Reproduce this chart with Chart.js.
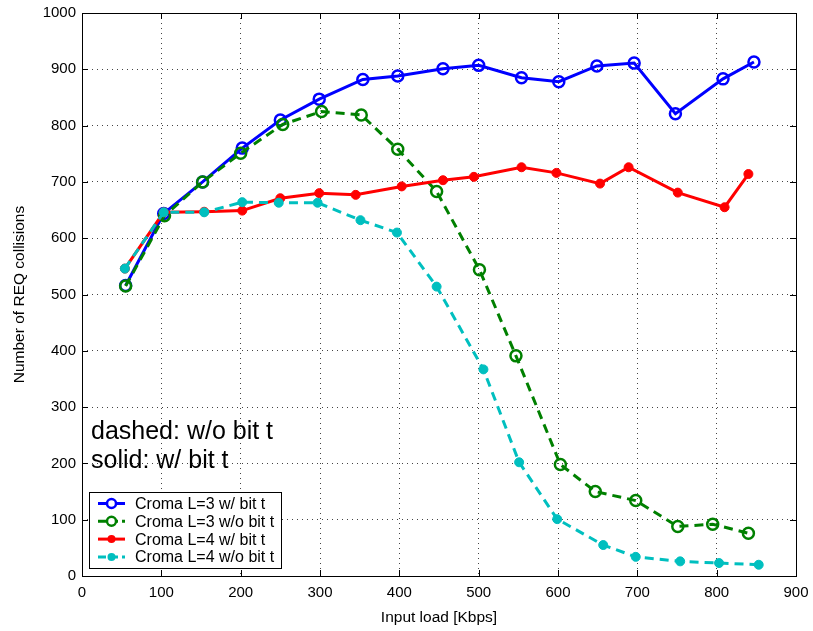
<!DOCTYPE html>
<html>
<head>
<meta charset="utf-8">
<title>REQ collisions vs input load</title>
<script src="https://cdn.jsdelivr.net/npm/chart.js@4.4.1/dist/chart.umd.min.js"></script>
<style>
  html, body { margin: 0; padding: 0; background: #ffffff; }
  canvas { display: block; }
</style>
</head>
<body>
<canvas id="chart" width="813" height="631"></canvas>
<script>
// Input load (Kbps) and REQ collision counts for each Croma configuration
const l3BitLoad   = [55, 103, 152, 202, 250, 299, 354, 398, 455, 500, 554, 601, 649, 696, 748, 808, 847];
const l3BitColl   = [516, 644, 700, 760, 810, 847, 882, 888, 901, 907, 885, 878, 906, 911, 821, 883, 913];

const l3NoBitLoad = [55, 104, 152, 200, 253, 302, 352, 398, 447, 501, 547, 603, 647, 698, 751, 795, 840];
const l3NoBitColl = [515, 640, 700, 751, 802, 825, 819, 758, 683, 544, 391, 198, 150, 134, 88, 92, 76];

const l4BitLoad   = [54, 103, 154, 202, 250, 299, 345, 403, 455, 494, 554, 598, 653, 689, 751, 810, 840];
const l4BitColl   = [546, 646, 647, 649, 671, 680, 677, 692, 703, 709, 726, 716, 697, 726, 681, 655, 714];

const l4NoBitLoad = [54, 103, 154, 202, 248, 297, 351, 397, 447, 506, 551, 599, 657, 698, 754, 803, 853];
const l4NoBitColl = [546, 646, 646, 664, 663, 663, 632, 610, 514, 367, 202, 101, 55, 34, 26, 23, 20];

const seriesNames = ['Croma L=3 w/ bit t', 'Croma L=3 w/o bit t', 'Croma L=4 w/ bit t', 'Croma L=4 w/o bit t'];
const xTicks = [0, 100, 200, 300, 400, 500, 600, 700, 800, 900];
const yTicks = [0, 100, 200, 300, 400, 500, 600, 700, 800, 900, 1000];

const FONT = '"Liberation Sans", Arial, Helvetica, sans-serif';

function pairs(xs, ys) { return xs.map((x, i) => ({ x: x, y: ys[i] })); }

const styles = [
  { color: '#0000ff', dash: [],     filled: false },
  { color: '#008000', dash: [9, 6], filled: false },
  { color: '#ff0000', dash: [],     filled: true  },
  { color: '#00bfbf', dash: [9, 6], filled: true  }
];

function makeSet(idx, xs, ys, order) {
  const s = styles[idx];
  return {
    label: seriesNames[idx],
    data: pairs(xs, ys),
    borderColor: s.color,
    backgroundColor: s.filled ? s.color : 'rgba(0,0,0,0)',
    borderWidth: 3,
    borderDash: s.dash,
    pointRadius: s.filled ? 4.5 : 5.5,
    pointBorderWidth: s.filled ? 1 : 2.5,
    pointBorderColor: s.color,
    pointBackgroundColor: s.filled ? s.color : 'rgba(0,0,0,0)',
    pointStyle: 'circle',
    showLine: true,
    tension: 0,
    order: order
  };
}

// Frame, inward tick marks, axis titles, annotation text and legend
const decorations = {
  id: 'decorations',
  afterDatasetsDraw(chart) {
    const ctx = chart.ctx;
    const a = chart.chartArea;
    const xs = chart.scales.x, ys = chart.scales.y;
    ctx.save();
    ctx.strokeStyle = '#000';
    ctx.lineWidth = 1;
    ctx.setLineDash([]);
    ctx.strokeRect(Math.round(a.left) + 0.5, Math.round(a.top) + 0.5,
                   Math.round(a.right - a.left), Math.round(a.bottom - a.top));
    const tl = 6;
    ctx.beginPath();
    xTicks.forEach(v => {
      const px = Math.round(xs.getPixelForValue(v)) + 0.5;
      ctx.moveTo(px, a.bottom); ctx.lineTo(px, a.bottom - tl);
      ctx.moveTo(px, a.top); ctx.lineTo(px, a.top + tl);
    });
    yTicks.forEach(v => {
      const py = Math.round(ys.getPixelForValue(v)) + 0.5;
      ctx.moveTo(a.left, py); ctx.lineTo(a.left + tl, py);
      ctx.moveTo(a.right, py); ctx.lineTo(a.right - tl, py);
    });
    ctx.stroke();

    // axis titles
    ctx.fillStyle = '#000';
    ctx.font = '15.5px ' + FONT;
    ctx.textAlign = 'center';
    ctx.textBaseline = 'alphabetic';
    ctx.fillText('Input load [Kbps]', (a.left + a.right) / 2, 622);
    ctx.save();
    ctx.translate(24, (a.top + a.bottom) / 2);
    ctx.rotate(-Math.PI / 2);
    ctx.fillText('Number of REQ collisions', 0, 0);
    ctx.restore();

    // annotation
    ctx.font = '25px ' + FONT;
    ctx.textAlign = 'left';
    ctx.fillText('dashed: w/o bit t', 91, 439);
    ctx.fillText('solid: w/ bit t', 91, 468);

    // legend box
    const lx = 89, ly = 492, lw = 192, lh = 76;
    ctx.fillStyle = '#fff';
    ctx.fillRect(lx, ly, lw, lh);
    ctx.strokeStyle = '#000';
    ctx.lineWidth = 1;
    ctx.strokeRect(lx + 0.5, ly + 0.5, lw, lh);
    ctx.font = '16px ' + FONT;
    ctx.textBaseline = 'middle';
    chart.data.datasets.forEach((ds, i) => {
      const s = styles[i];
      const cy = 503.5 + i * 17.8;
      ctx.strokeStyle = s.color;
      ctx.lineWidth = 3;
      ctx.setLineDash(s.dash.length ? [8, 4] : []);
      ctx.beginPath();
      ctx.moveTo(98, cy); ctx.lineTo(125, cy);
      ctx.stroke();
      ctx.setLineDash([]);
      ctx.beginPath();
      if (s.filled) {
        ctx.fillStyle = s.color;
        ctx.arc(111.5, cy, 4, 0, Math.PI * 2);
        ctx.fill();
      } else {
        ctx.lineWidth = 2.5;
        ctx.fillStyle = '#fff';
        ctx.arc(111.5, cy, 4.5, 0, Math.PI * 2);
        ctx.fill();
        ctx.stroke();
      }
      ctx.fillStyle = '#000';
      ctx.fillText(ds.label, 135, cy + 1);
    });
    ctx.restore();
  }
};

new Chart(document.getElementById('chart'), {
  type: 'scatter',
  data: {
    datasets: [
      makeSet(0, l3BitLoad, l3BitColl, 4),
      makeSet(1, l3NoBitLoad, l3NoBitColl, 3),
      makeSet(2, l4BitLoad, l4BitColl, 2),
      makeSet(3, l4NoBitLoad, l4NoBitColl, 1)
    ]
  },
  options: {
    responsive: false,
    animation: false,
    layout: { padding: { top: 13, right: 17, left: 0, bottom: 0 } },
    plugins: {
      legend: { display: false },
      tooltip: { enabled: false }
    },
    scales: {
      x: {
        type: 'linear',
        min: 0, max: 900,
        afterFit(scale) {
          scale.height = 55;
          scale.paddingLeft = 0;
          scale.paddingRight = 0;
        },
        afterBuildTicks(scale) { scale.ticks = xTicks.map(v => ({ value: v })); },
        border: { display: false, dash: [1, 4] },
        grid: { color: '#444', lineWidth: 1, drawTicks: false },
        ticks: {
          color: '#000',
          font: { family: FONT, size: 15 },
          padding: 8,
          maxRotation: 0,
          callback: v => String(v)
        }
      },
      y: {
        type: 'linear',
        min: 0, max: 1000,
        afterFit(scale) {
          scale.width = 82;
          scale.paddingTop = 0;
          scale.paddingBottom = 0;
        },
        afterBuildTicks(scale) { scale.ticks = yTicks.map(v => ({ value: v })); },
        border: { display: false, dash: [1, 4] },
        grid: { color: '#444', lineWidth: 1, drawTicks: false },
        ticks: {
          color: '#000',
          font: { family: FONT, size: 15 },
          padding: 6,
          callback: v => String(v)
        }
      }
    }
  },
  plugins: [decorations]
});
</script>
</body>
</html>
